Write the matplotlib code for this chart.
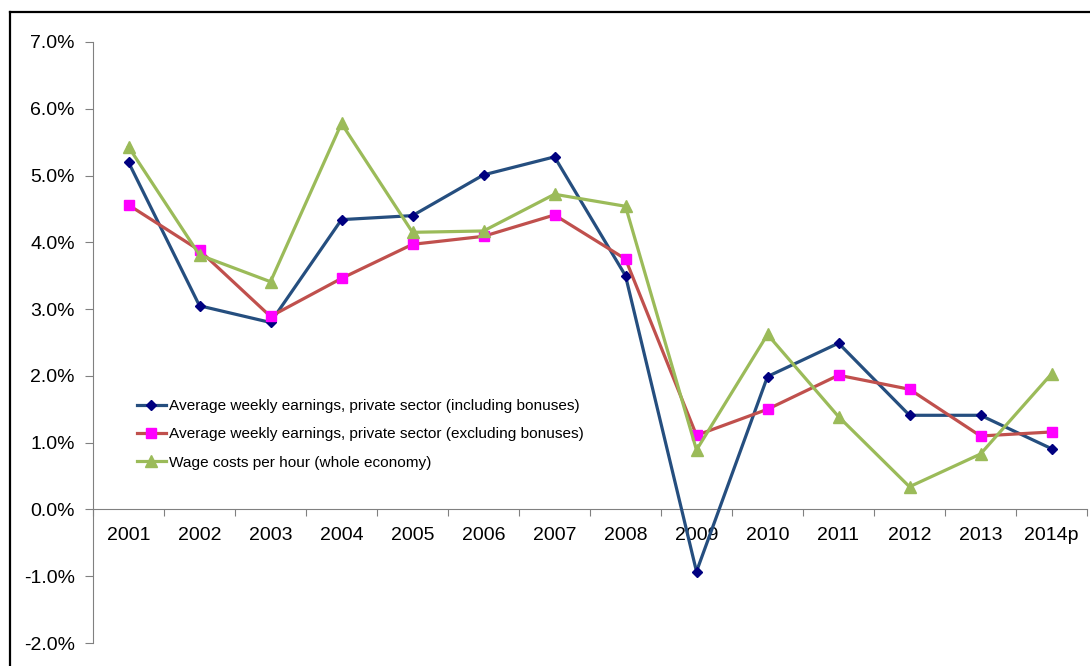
import matplotlib
matplotlib.use("Agg")
import matplotlib.pyplot as plt
from matplotlib.lines import Line2D

plt.rcParams['font.family'] = ['Liberation Sans', 'DejaVu Sans']

years = ["2001", "2002", "2003", "2004", "2005", "2006", "2007",
         "2008", "2009", "2010", "2011", "2012", "2013", "2014p"]

# annual growth, %
awe_incl_bonus = [5.20, 3.05, 2.80, 4.34, 4.40, 5.01, 5.28,
                  3.50, -0.93, 1.99, 2.49, 1.41, 1.41, 0.91]
awe_excl_bonus = [4.56, 3.88, 2.89, 3.46, 3.97, 4.09, 4.41,
                  3.75, 1.11, 1.50, 2.01, 1.80, 1.10, 1.16]
wage_costs = [5.43, 3.81, 3.41, 5.78, 4.15, 4.17, 4.72,
              4.54, 0.89, 2.62, 1.39, 0.34, 0.83, 2.03]

labels = ["Average weekly earnings, private sector (including bonuses)",
          "Average weekly earnings, private sector (excluding bonuses)",
          "Wage costs per hour (whole economy)"]

fig = plt.figure(figsize=(10.9, 6.66), dpi=100)
ax = fig.add_axes([93 / 1090, 1 - 643 / 666, 994 / 1090, 601 / 666])

x = range(len(years))
ax.plot(x, awe_incl_bonus, color='#254E7F', lw=2.3, marker='D', ms=5,
        mfc='#000080', mec='#000080', label=labels[0], zorder=3)
ax.plot(x, awe_excl_bonus, color='#C0504D', lw=2.3, marker='s', ms=6.5,
        mfc='#FF00FF', mec='#FF00FF', label=labels[1], zorder=3)
ax.plot(x, wage_costs, color='#9BBB59', lw=2.3, marker='^', ms=9,
        mfc='#9BBB59', mec='#9BBB59', label=labels[2], zorder=3)

ax.set_xlim(-0.5, len(years) - 0.5)
ax.set_ylim(-2, 7)

axis_col = '#808080'
for side in ['top', 'right']:
    ax.spines[side].set_visible(False)
ax.spines['left'].set_color(axis_col)
ax.spines['bottom'].set_color(axis_col)
ax.spines['bottom'].set_position(('data', 0))

ax.set_yticks(range(-2, 8))
ax.set_yticklabels([f"{v:.1f}%" for v in range(-2, 8)], fontsize=14)
ax.tick_params(axis='y', length=6, color=axis_col, pad=7)

# ticks between categories, labels at category centres
ax.set_xticks([i - 0.5 for i in range(len(years) + 1)])
ax.set_xticklabels([])
ax.set_xticks(list(x), minor=True)
ax.set_xticklabels(years, minor=True, fontsize=14)
ax.tick_params(axis='x', which='major', length=5, color=axis_col, direction='out')
ax.tick_params(axis='x', which='minor', length=0, pad=13)

ax.legend(loc='upper left', bbox_to_anchor=(0.0443, 0.406), frameon=False,
          fontsize=11.1, borderpad=0, borderaxespad=0, handlelength=1.85,
          handletextpad=0.2, labelspacing=0.93)

# outer border
fig.add_artist(Line2D([9.5 / 1090, 1], [1 - 12 / 666, 1 - 12 / 666],
                      color='black', lw=1.6, transform=fig.transFigure))
fig.add_artist(Line2D([9.5 / 1090, 9.5 / 1090], [0, 1 - 12 / 666],
                      color='black', lw=1.6, transform=fig.transFigure))

fig.savefig("out.png", dpi=100)
